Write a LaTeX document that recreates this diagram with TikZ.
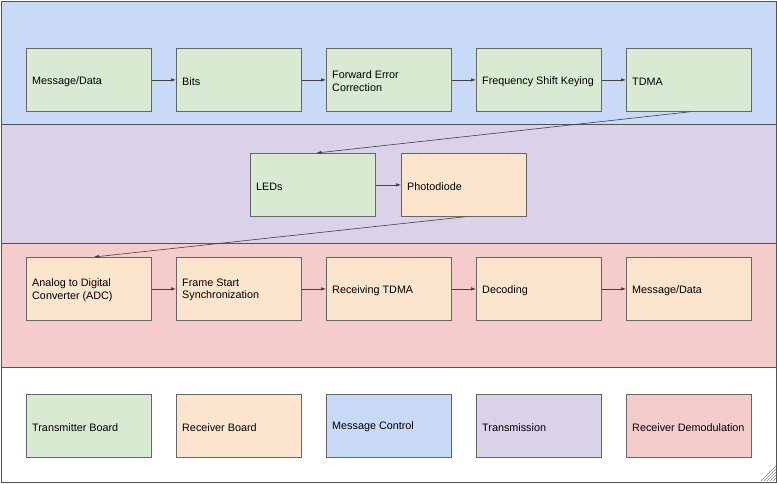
\documentclass[tikz,border=0pt]{standalone}
\usepackage{fontspec}
\setmainfont{Liberation Sans}
\usetikzlibrary{arrows.meta}
\definecolor{bandblue}{HTML}{C9DAF8}
\definecolor{bandpurple}{HTML}{D9D2E9}
\definecolor{bandpink}{HTML}{F4CCCC}
\definecolor{boxgreen}{HTML}{D9EAD3}
\definecolor{boxorange}{HTML}{FCE5CD}
\definecolor{edgegray}{HTML}{666666}
\begin{document}
\begin{tikzpicture}[x=1pt,y=-1pt,
  band/.style={draw=edgegray!80!black, line width=0.8pt},
  blk/.style={draw=edgegray, line width=0.8pt, rectangle, minimum width=125pt, minimum height=63pt, inner sep=0pt, anchor=north west},
  lbl/.style={font=\fontsize{10.8}{12.8}\selectfont, align=left, anchor=west, inner sep=0pt},
  conn/.style={draw=black!75, line width=0.6pt, -{Latex[length=5pt,width=3.5pt]}}]
\useasboundingbox (0,0) rectangle (777,483);
% bands
\fill[white] (0,0) rectangle (777,483);
\path[band, fill=bandblue] (1,1) rectangle (776,124);
\path[band, fill=bandpurple] (1,124) rectangle (776,243);
\path[band, fill=bandpink] (1,243) rectangle (776,367);
\path[band, fill=white] (1,367) rectangle (776,482);
% resize grip
\foreach \d in {3,6,9,12,15}
  \draw[edgegray!80, line width=0.6pt] (776-\d,481) -- (776,481-\d);
% row 1
\node[blk, fill=boxgreen] (m1) at (26,48) {};
\node[blk, fill=boxgreen] (b1) at (176,48) {};
\node[blk, fill=boxgreen] (f1) at (326,48) {};
\node[blk, fill=boxgreen] (k1) at (476,48) {};
\node[blk, fill=boxgreen] (t1) at (626,48) {};
\node[lbl] at ([xshift=6pt,yshift=-1.5pt]m1.west) {Message/Data};
\node[lbl] at ([xshift=6pt,yshift=-1.5pt]b1.west) {Bits};
\node[lbl] at ([xshift=6pt,yshift=-1pt]f1.west) {Forward Error\\Correction};
\node[lbl] at ([xshift=6pt,yshift=-1.5pt]k1.west) {Frequency Shift Keying};
\node[lbl] at ([xshift=6pt,yshift=-1.5pt]t1.west) {TDMA};
% row 2
\node[blk, fill=boxgreen] (led) at (250,153) {};
\node[blk, fill=boxorange] (pd) at (401,153) {};
\node[lbl] at ([xshift=6pt,yshift=-1.5pt]led.west) {LEDs};
\node[lbl] at ([xshift=6pt,yshift=-1.5pt]pd.west) {Photodiode};
% row 3
\node[blk, fill=boxorange] (adc) at (26,257) {};
\node[blk, fill=boxorange] (fs) at (176,257) {};
\node[blk, fill=boxorange] (rt) at (326,257) {};
\node[blk, fill=boxorange] (dec) at (476,257) {};
\node[blk, fill=boxorange] (md) at (626,257) {};
\node[lbl] at ([xshift=6pt,yshift=-1pt]adc.west) {Analog to Digital\\Converter (ADC)};
\node[lbl] at ([xshift=6pt,yshift=-1pt]fs.west) {Frame Start\\Synchronization};
\node[lbl] at ([xshift=6pt,yshift=-1.5pt]rt.west) {Receiving TDMA};
\node[lbl] at ([xshift=6pt,yshift=-1.5pt]dec.west) {Decoding};
\node[lbl] at ([xshift=6pt,yshift=-1.5pt]md.west) {Message/Data};
% legend
\node[blk, fill=boxgreen] (l1) at (26,394) {};
\node[blk, fill=boxorange] (l2) at (176,394) {};
\node[blk, fill=bandblue] (l3) at (326,394) {};
\node[blk, fill=bandpurple] (l4) at (476,394) {};
\node[blk, fill=bandpink] (l5) at (626,394) {};
\node[lbl] at ([xshift=6pt,yshift=-2pt]l1.west) {Transmitter Board};
\node[lbl] at ([xshift=6pt,yshift=-2pt]l2.west) {Receiver Board};
\node[lbl] at ([xshift=6pt,yshift=-0.5pt]l3.west) {Message Control};
\node[lbl] at ([xshift=6pt,yshift=-2pt]l4.west) {Transmission};
\node[lbl] at ([xshift=6pt,yshift=-2pt]l5.west) {Receiver Demodulation};
% connectors
\draw[conn] (m1) -- (b1);
\draw[conn] (b1) -- (f1);
\draw[conn] (f1) -- (k1);
\draw[conn] (k1) -- (t1);
\draw[conn] ([xshift=1pt]t1.south) -- ([xshift=3.5pt]led.north);
\draw[conn] (led) -- (pd);
\draw[conn] ([xshift=1pt]pd.south) -- ([xshift=5pt]adc.north);
\draw[conn] (adc) -- (fs);
\draw[conn] (fs) -- (rt);
\draw[conn] (rt) -- (dec);
\draw[conn] (dec) -- (md);
\end{tikzpicture}
\end{document}
